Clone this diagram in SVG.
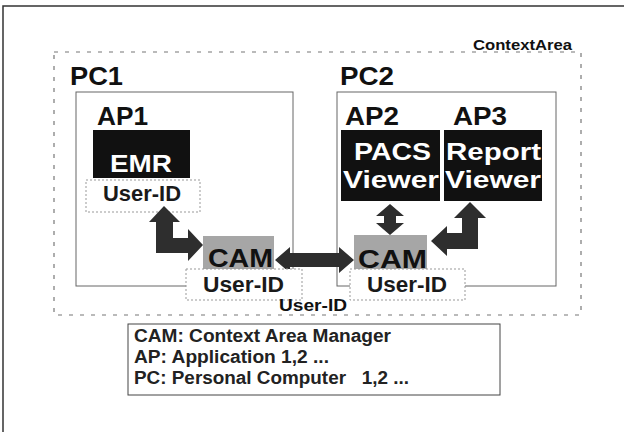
<svg xmlns="http://www.w3.org/2000/svg" width="624" height="432" viewBox="0 0 624 432">
  <defs>
    <style>
      .frame { fill: none; stroke: #333; stroke-width: 1.5; }
      .ctx { fill: none; stroke: #777; stroke-width: 1.2; stroke-dasharray: 4 7; }
      .pc { fill: #fff; stroke: #666; stroke-width: 1; }
      .app { fill: #111; }
      .cam { fill: #a6a6a6; }
      .uid { fill: #fff; stroke: #999; stroke-width: 1; stroke-dasharray: 2 2; }
      .fat { fill: #2e2e2e; }
      text { font-family: "Liberation Sans", Arial, sans-serif; fill: #111; font-weight: bold; }
      .big { font-size: 25px; }
      .white { fill: #fff; font-size: 23px; }
      .uidt { font-size: 21.5px; fill: #1a1a1a; }
      .camt { font-size: 26px; }
      .leg { font-size: 18px; fill: #222; }
    </style>
  </defs>

  <!-- outer page frame (top and left edges) -->
  <path class="frame" d="M3,432 V6 H624"/>

  <!-- context area -->
  <g id="context-area">
    <rect class="ctx" x="54" y="52" width="527" height="263"/>
    <text x="473" y="50" font-size="15.5" textLength="99" lengthAdjust="spacingAndGlyphs">ContextArea</text>
  </g>

  <!-- PC1 -->
  <g id="pc1">
    <text class="big" x="70" y="85" textLength="53" lengthAdjust="spacingAndGlyphs">PC1</text>
    <rect class="pc" x="76" y="92" width="217" height="194"/>
  </g>

  <!-- PC2 -->
  <g id="pc2">
    <text class="big" x="340" y="85" textLength="54" lengthAdjust="spacingAndGlyphs">PC2</text>
    <rect class="pc" x="337" y="92" width="219" height="194"/>
  </g>

  <!-- AP1: EMR -->
  <g id="ap1">
    <text class="big" x="97" y="125" textLength="51" lengthAdjust="spacingAndGlyphs">AP1</text>
    <rect class="app" x="93" y="130" width="97" height="48"/>
    <text class="white" x="110" y="172" textLength="62" lengthAdjust="spacingAndGlyphs">EMR</text>
  </g>
  <g id="ap1-userid">
    <rect class="uid" x="86" y="180" width="114" height="32"/>
    <text class="uidt" x="103" y="201" textLength="78" lengthAdjust="spacingAndGlyphs">User-ID</text>
  </g>

  <!-- AP2: PACS Viewer -->
  <g id="ap2">
    <text class="big" x="345" y="125" textLength="54" lengthAdjust="spacingAndGlyphs">AP2</text>
    <rect class="app" x="341" y="130" width="99" height="71"/>
    <text class="white" x="354" y="160" textLength="77" lengthAdjust="spacingAndGlyphs">PACS</text>
    <text class="white" x="343" y="188" textLength="96" lengthAdjust="spacingAndGlyphs">Viewer</text>
  </g>

  <!-- AP3: Report Viewer -->
  <g id="ap3">
    <text class="big" x="453" y="125" textLength="54" lengthAdjust="spacingAndGlyphs">AP3</text>
    <rect class="app" x="444" y="130" width="98" height="71"/>
    <text class="white" x="446" y="160" textLength="95" lengthAdjust="spacingAndGlyphs">Report</text>
    <text class="white" x="445" y="188" textLength="96" lengthAdjust="spacingAndGlyphs">Viewer</text>
  </g>

  <!-- connectors -->
  <g id="connectors">
    <!-- AP1 user-id to CAM1 (L-shaped, both ends) -->
    <path class="fat" d="M164,206 L180,222 L173,222 L173,238 L188,238 L188,229 L203,245 L188,261 L188,253 L156,253 L156,222 L149,222 Z"/>
    <!-- CAM1 to CAM2 -->
    <path class="fat" d="M275,260 L290,247 L290,253 L339,253 L339,247 L354,260 L339,273 L339,267 L290,267 L290,273 Z"/>
    <!-- PACS Viewer to CAM2 -->
    <path class="fat" d="M390,204 L404,216 L396,216 L396,223 L404,223 L390,235 L376,223 L384,223 L384,216 L376,216 Z"/>
    <!-- Report Viewer to CAM2 (L-shaped, both ends) -->
    <path class="fat" d="M470,202 L486,218 L478,218 L478,249 L447,249 L447,256 L431,241 L447,226 L447,233 L462,233 L462,218 L454,218 Z"/>
  </g>

  <!-- CAM on PC1 -->
  <g id="cam1">
    <rect class="cam" x="203" y="236" width="71" height="36"/>
    <text class="camt" x="208" y="267" textLength="65" lengthAdjust="spacingAndGlyphs">CAM</text>
  </g>
  <g id="cam1-userid">
    <rect class="uid" x="186" y="269" width="116" height="31"/>
    <text class="uidt" x="203" y="292" textLength="81" lengthAdjust="spacingAndGlyphs">User-ID</text>
  </g>

  <!-- CAM on PC2 -->
  <g id="cam2">
    <rect class="cam" x="354" y="235" width="73" height="37"/>
    <text class="camt" x="358" y="268" textLength="69" lengthAdjust="spacingAndGlyphs">CAM</text>
  </g>
  <g id="cam2-userid">
    <rect class="uid" x="350" y="269" width="115" height="31"/>
    <text class="uidt" x="367" y="292" textLength="80" lengthAdjust="spacingAndGlyphs">User-ID</text>
  </g>

  <!-- shared user-id label -->
  <text x="279" y="311" font-size="17" textLength="68" lengthAdjust="spacingAndGlyphs">User-ID</text>

  <!-- legend -->
  <g id="legend">
    <rect x="128" y="324" width="372" height="71" fill="#fff" stroke="#444" stroke-width="1"/>
    <text class="leg" x="134" y="342" textLength="257" lengthAdjust="spacingAndGlyphs">CAM: Context Area Manager</text>
    <text class="leg" x="134" y="363" textLength="195" lengthAdjust="spacingAndGlyphs">AP: Application 1,2 ...</text>
    <text class="leg" x="134" y="384" textLength="275" lengthAdjust="spacingAndGlyphs" xml:space="preserve">PC: Personal Computer   1,2 ...</text>
  </g>
</svg>
